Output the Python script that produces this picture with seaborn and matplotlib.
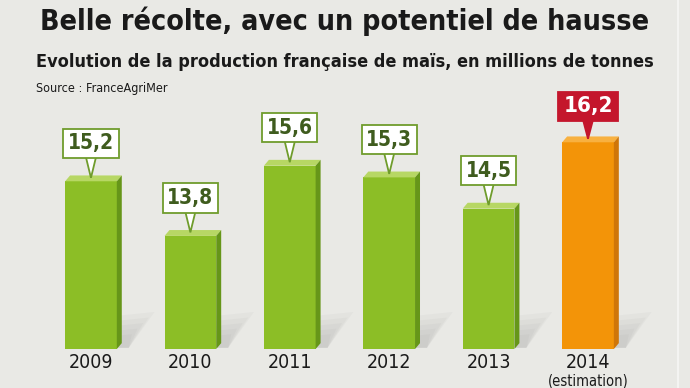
import numpy as np
import pandas as pd
import matplotlib
matplotlib.use('Agg')
import matplotlib.pyplot as plt
import matplotlib.transforms as mtransforms
from matplotlib.patches import Polygon
import seaborn as sns

# données (millions de tonnes)
years = ['2009', '2010', '2011', '2012', '2013', '2014']
year_notes = ['', '', '', '', '', '(estimation)']
production = [15.2, 13.8, 15.6, 15.3, 14.5, 16.2]
value_labels = ['15,2', '13,8', '15,6', '15,3', '14,5', '16,2']
is_estimate = [False, False, False, False, False, True]

BASE = 10.9  # valeur au pied des barres (axe tronqué)

BG = '#e9e9e5'
GREEN = '#8cbe26'
GREEN_TOP = '#b7d764'
GREEN_SIDE = '#669619'
ORANGE = '#f39408'
ORANGE_TOP = '#f8b140'
ORANGE_SIDE = '#cf7609'
RED = '#c4162c'
DARK_GREEN = '#3f5c1e'
BOX_EDGE = '#6f9c2c'

sns.set_theme(style='white')
plt.rcParams['font.family'] = ['DejaVu Sans']
plt.rcParams['font.stretch'] = 'condensed'

df = pd.DataFrame({'year': years, 'height': [v - BASE for v in production]})

fig = plt.figure(figsize=(6.9, 3.88), dpi=100, facecolor=BG)
ax = fig.add_axes([0, 39 / 388, 1, 349 / 388])
ax.set_facecolor('none')

colors = [ORANGE if e else GREEN for e in is_estimate]
sns.barplot(data=df, x='year', y='height', hue='year', palette=colors,
            legend=False, width=0.52, saturation=1, linewidth=0, ax=ax, zorder=3)

ax.set_xlim(-0.915, 6.026)
ax.set_ylim(0, 349 / 39)

dx, dy = 0.05, 0.15
for patch, val, lab, est in zip(ax.patches, production, value_labels, is_estimate):
    x0 = patch.get_x()
    w = patch.get_width()
    h = patch.get_height()
    x1 = x0 + w
    xc = x0 + w / 2
    top_c = ORANGE_TOP if est else GREEN_TOP
    side_c = ORANGE_SIDE if est else GREEN_SIDE

    # ombre portée (floue)
    for k in range(5):
        s = 1 - k * 0.15
        ax.add_patch(Polygon([(x1, 0.03), (x1, 0.85 * s), (x1 + 0.38 * s, 0.95 * s),
                              (x1 + 0.12, 0.03)], closed=True, fc='#666666',
                             ec='none', alpha=0.045, zorder=1))
    # faces 3D
    ax.add_patch(Polygon([(x0, h), (x0 + dx, h + dy), (x1 + dx, h + dy), (x1, h)],
                         closed=True, fc=top_c, ec='none', zorder=3))
    ax.add_patch(Polygon([(x1, 0), (x1 + dx, dy), (x1 + dx, h + dy), (x1, h)],
                         closed=True, fc=side_c, ec='none', zorder=3))

    # étiquette
    if est:
        fc, ec, tc, off, fs = RED, RED, 'white', 0.92, 16
    else:
        fc, ec, tc, off, fs = 'white', BOX_EDGE, DARK_GREEN, 0.97, 15
    ax.add_patch(Polygon([(xc - 0.065, h + off - 0.2), (xc + 0.065, h + off - 0.2),
                          (xc, h + 0.09)], closed=True, fc=fc, ec=ec, lw=1.3,
                         zorder=4))
    ax.text(xc, h + off, lab, ha='center', va='center', fontsize=fs,
            fontweight='bold', color=tc, zorder=5,
            bbox=dict(boxstyle='square,pad=0.22', fc=fc, ec=ec, lw=1.3))

ax.set_xticks(range(len(years)))
ax.set_xticklabels(years, fontsize=14, color='#1a1a1a')
ax.tick_params(axis='x', length=0, pad=3)
ax.set_yticks([])
ax.set_xlabel('')
ax.set_ylabel('')
for sp in ax.spines.values():
    sp.set_visible(False)

# mention "(estimation)" sous l'année, collée au bas de l'image
trans = mtransforms.blended_transform_factory(ax.transData, fig.transFigure)
for i, note in enumerate(year_notes):
    if note:
        ax.text(i, 0.0, note, transform=trans, ha='center', va='bottom',
                fontsize=10.5, color='#1a1a1a')

title = fig.text(0.5, 0.945, 'Belle récolte, avec un potentiel de hausse', ha='center',
                 va='center', fontsize=24, fontweight='bold', color='#1a1a1a')
subtitle = fig.text(0.5, 0.84,
                    'Evolution de la production française de maïs, en millions de tonnes',
                    ha='center', va='center', fontsize=15, fontweight='bold',
                    color='#1a1a1a')
fig.text(0.052, 0.773, 'Source : FranceAgriMer', ha='left', va='center',
         fontsize=9, color='#1a1a1a')

# ajuster la taille des titres à la largeur du bandeau
renderer = fig.canvas.get_renderer()
for t, target in [(title, 608), (subtitle, 618)]:
    wpx = t.get_window_extent(renderer).width
    if wpx > target:
        t.set_fontsize(t.get_fontsize() * target / wpx)

fig.add_artist(plt.Line2D([0.982, 0.982], [0, 1], transform=fig.transFigure,
                          color='#f7f7f5', lw=1.2))

fig.savefig('out.png', dpi=100, facecolor=BG)
